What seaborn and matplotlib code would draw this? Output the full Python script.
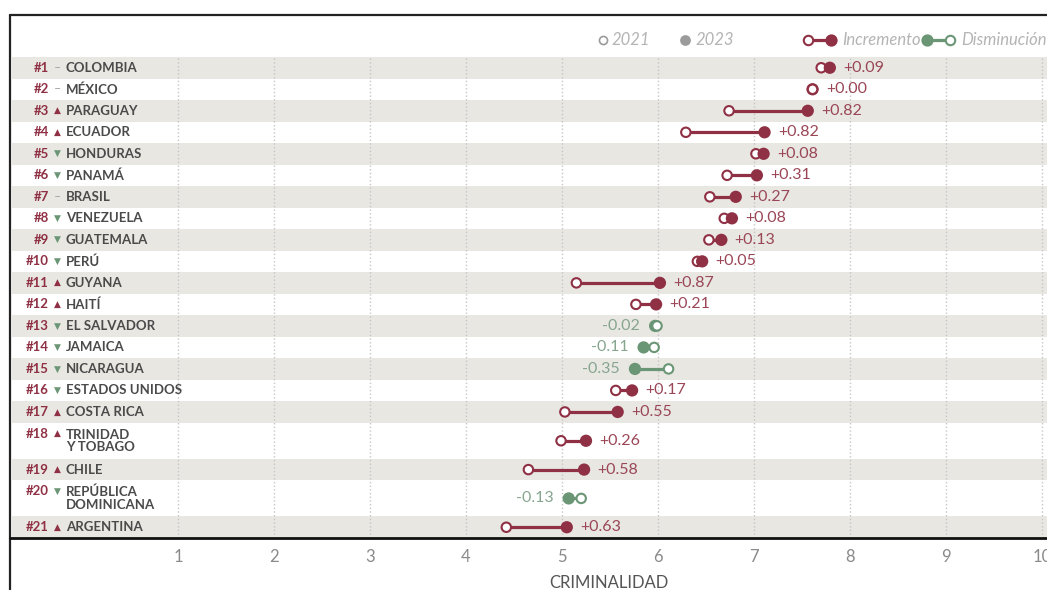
import numpy as np
import pandas as pd
import matplotlib.pyplot as plt
import seaborn as sns

# ranking de criminalidad 2023 vs 2021
ranks = list(range(1, 22))
countries = ['COLOMBIA', 'MÉXICO', 'PARAGUAY', 'ECUADOR', 'HONDURAS', 'PANAMÁ', 'BRASIL',
             'VENEZUELA', 'GUATEMALA', 'PERÚ', 'GUYANA', 'HAITÍ', 'EL SALVADOR', 'JAMAICA',
             'NICARAGUA', 'ESTADOS UNIDOS', 'COSTA RICA', 'TRINIDAD\nY TOBAGO', 'CHILE',
             'REPÚBLICA\nDOMINICANA', 'ARGENTINA']
trend = ['–', '–', '▲', '▲', '▼', '▼', '–', '▼', '▼', '▼', '▲', '▲', '▼', '▼', '▼', '▼',
         '▲', '▲', '▲', '▼', '▲']
crim_2021 = [7.70, 7.61, 6.74, 6.29, 7.02, 6.72, 6.54, 6.69, 6.53, 6.41, 5.15, 5.77, 5.99,
             5.96, 6.11, 5.56, 5.03, 4.99, 4.65, 5.20, 4.42]
crim_2023 = [7.79, 7.61, 7.56, 7.11, 7.10, 7.03, 6.81, 6.77, 6.66, 6.46, 6.02, 5.98, 5.97,
             5.85, 5.76, 5.73, 5.58, 5.25, 5.23, 5.07, 5.05]
x_ticks = list(range(1, 11))

RED = '#8f3044'
GREEN = '#6b9676'
RED_TXT = '#9a4656'
GREEN_TXT = '#86a58f'
BAND = '#e8e7e2'
GRAY_TXT = '#b4b4b4'

sns.set_theme(style='white')
plt.rcParams['font.family'] = ['Lato', 'DejaVu Sans']

df = pd.DataFrame({'rank': ranks, 'country': countries, 'trend': trend,
                   'y2021': crim_2021, 'y2023': crim_2023})
df['diff'] = (df['y2023'] - df['y2021']).round(2)
df['dir'] = np.where(df['diff'] >= 0, 'up', 'down')
pal = {'up': RED, 'down': GREEN}

# filas de dos lineas son mas altas
heights = np.where(df['country'].str.contains('\n'), 1.68, 1.0)
edges = np.concatenate([[0], np.cumsum(heights)])
df['pos'] = (edges[:-1] + edges[1:]) / 2

W, H = 1047, 590
fig = plt.figure(figsize=(W / 100, H / 100), dpi=100)
ax = fig.add_axes([12 / W, (H - 538) / H, (W - 12) / W, (538 - 57) / H])
ax.set_xlim(1 - (178 - 12) / 96, 10 + (1047 - 1042) / 96)
ax.set_ylim(edges[-1], 0)

for i in range(0, len(df), 2):
    ax.axhspan(edges[i], edges[i + 1], color=BAND, lw=0, zorder=0)

ax.hlines(df['pos'], df['y2021'], df['y2023'], colors=df['dir'].map(pal), lw=2.3, zorder=2)


def open_points(sub, z):
    if sub.empty:
        return
    sns.scatterplot(data=sub, x='y2021', y='pos', hue='dir', palette=pal, s=46,
                    linewidth=1.5, legend=False, ax=ax, zorder=z)
    coll = ax.collections[-1]
    coll.set_edgecolor(coll.get_facecolors())
    coll.set_facecolor('white')


# el punto de la derecha queda encima
open_points(df[df['diff'] > 0], 3)
sns.scatterplot(data=df, x='y2023', y='pos', hue='dir', palette=pal, s=78, linewidth=0,
                legend=False, ax=ax, zorder=4)
open_points(df[df['diff'] <= 0], 5)

for _, r in df.iterrows():
    if r['diff'] >= 0:
        ax.annotate(f"{r['diff']:+.2f}", (r['y2023'], r['pos']), xytext=(9.5, 0),
                    textcoords='offset points', ha='left', va='center', fontsize=11.5,
                    color=RED_TXT, zorder=6)
    else:
        ax.annotate(f"{r['diff']:+.2f}", (r['y2023'], r['pos']), xytext=(-11, 0),
                    textcoords='offset points', ha='right', va='center', fontsize=11.5,
                    color=GREEN_TXT, zorder=6)

# etiquetas de la izquierda
tr = ax.get_yaxis_transform()
sym_col = {'–': '#aaaaaa', '▲': RED, '▼': GREEN}
for _, r in df.iterrows():
    first = r['pos'] - (0.33 if '\n' in r['country'] else 0)
    ax.text((49 - 12) / 1035, first, f"#{r['rank']}", transform=tr, ha='right', va='center',
            fontsize=9.5, fontweight='bold', color=RED)
    ax.text((57.5 - 12) / 1035, first, r['trend'], transform=tr, ha='center', va='center',
            fontsize=6.5 if r['trend'] != '–' else 9, color=sym_col[r['trend']])
    ax.text((66 - 12) / 1035, r['pos'], r['country'], transform=tr, ha='left', va='center',
            fontsize=9.5, fontweight='bold', color='#4a4a4a', linespacing=1.05)

ax.set_xticks(x_ticks)
ax.set_xticklabels([str(t) for t in x_ticks], fontsize=12, color='#8a8a8a')
ax.tick_params(axis='x', length=0, pad=8)
ax.set_yticks([])
ax.set_xlabel('')
ax.set_ylabel('')
ax.xaxis.grid(True, ls=':', color='#c6c6c6', lw=1)
ax.set_axisbelow(True)
for s in ax.spines.values():
    s.set_visible(False)

# capa en pixeles para marco y leyenda
ov = fig.add_axes([0, 0, 1, 1], facecolor='none')
ov.set_xlim(0, W)
ov.set_ylim(H, 0)
ov.axis('off')
ov.plot([10, W], [15, 15], color='#222222', lw=1.6)
ov.plot([10, 10], [15, H], color='#222222', lw=1.6)
ov.plot([10, W], [538, 538], color='#111111', lw=2)

ov.scatter([603], [40], s=34, facecolor='white', edgecolor='#9b9b9b', lw=1.2)
ov.text(612, 40, '2021', ha='left', va='center', fontsize=12, style='italic', color=GRAY_TXT)
ov.scatter([685], [40], s=60, color='#9b9b9b', lw=0)
ov.text(696, 40, '2023', ha='left', va='center', fontsize=12, style='italic', color=GRAY_TXT)
ov.plot([808, 831], [40, 40], color=RED, lw=2.3)
ov.scatter([808], [40], s=46, facecolor='white', edgecolor=RED, lw=1.5, zorder=3)
ov.scatter([831], [40], s=78, color=RED, lw=0, zorder=3)
ov.text(842, 40, 'Incremento', ha='left', va='center', fontsize=12, style='italic',
        color=GRAY_TXT)
ov.plot([927, 950], [40, 40], color=GREEN, lw=2.3)
ov.scatter([927], [40], s=78, color=GREEN, lw=0, zorder=3)
ov.scatter([950], [40], s=46, facecolor='white', edgecolor=GREEN, lw=1.5, zorder=3)
ov.text(961, 40, 'Disminución', ha='left', va='center', fontsize=12, style='italic',
        color=GRAY_TXT)

ov.text(609, 583, 'CRIMINALIDAD', ha='center', va='center', fontsize=12, color='#555555')

fig.savefig('out.png', dpi=100)
